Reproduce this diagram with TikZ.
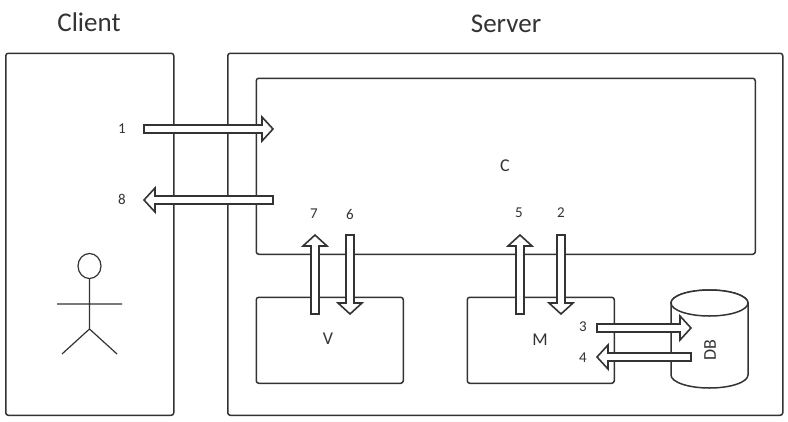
\documentclass[tikz,border=0pt]{standalone}
\usepackage{fontspec}
\setmainfont{Carlito}
\usetikzlibrary{calc}
\definecolor{ink}{HTML}{333333}
\tikzset{
  x=1pt,y=-1pt,
  box/.style={draw=ink,line width=1.5pt,fill=white,rounded corners=2.5pt},
  boxnode/.style={rectangle,draw=ink,line width=1.5pt,fill=white,rounded corners=2.5pt,inner sep=0pt,anchor=north west},
  blockarrow/.style={draw=ink,line width=1.6pt,fill=white,miter limit=10},
  figure/.style={draw=ink,line width=1.2pt},
  small/.style={font=\fontsize{15}{17}\selectfont,text=ink,inner sep=0pt},
  mid/.style={font=\fontsize{18}{20}\selectfont,text=ink,inner sep=0pt},
  big/.style={font=\fontsize{27}{30}\selectfont,text=ink,inner sep=0pt}
}
% #1 start coordinate, #2 tip coordinate
\newcommand{\blockar}[2]{%
  \coordinate (hb) at ($(#2)!11pt!(#1)$);
  \draw[blockarrow]
    ($(#1)!4pt!-90:(#2)$) -- ($(hb)!4pt!-90:(#2)$) -- ($(hb)!12pt!-90:(#2)$) -- (#2)
    -- ($(hb)!12pt!90:(#2)$) -- ($(hb)!4pt!90:(#2)$) -- ($(#1)!4pt!90:(#2)$) -- cycle;
}
\begin{document}
\begin{tikzpicture}
\useasboundingbox (0,0) rectangle (788,421);
% containers
\node[boxnode,minimum width=168pt,minimum height=362pt] (client) at (5,52.5) {};
\node[boxnode,minimum width=555pt,minimum height=362pt] (server) at (227,52.5) {};
\node[boxnode,minimum width=499pt,minimum height=176pt] (ctrl) at (255.5,77.5) {};
\node[boxnode,minimum width=147pt,minimum height=86pt] (view) at (255.5,296.5) {};
\node[boxnode,minimum width=147pt,minimum height=86pt] (model) at (466.5,296.5) {};
% database cylinder
\draw[box,rounded corners=0pt] (671,303) -- (671,375) arc[start angle=180,end angle=360,x radius=38.5pt,y radius=13pt]
  -- (748,303) arc[start angle=0,end angle=180,x radius=38.5pt,y radius=13pt] -- cycle;
\draw[box,rounded corners=0pt] (709.5,303) ellipse[x radius=38.5pt,y radius=13pt];
% actor
\draw[figure] (89.5,266) ellipse[x radius=11.5pt,y radius=12.5pt];
\draw[figure] (89.5,278.5) -- (89.5,329) (57,304) -- (122,304) (62,354) -- (89.5,329) -- (117,354);
% anchors for the arrows
\coordinate (a1) at (144,129); \coordinate (b1) at (273,129);
\coordinate (a8) at (273,200); \coordinate (b8) at (144,200);
\coordinate (a7) at (315,314); \coordinate (b7) at (315,235);
\coordinate (a6) at (350,235); \coordinate (b6) at (350,314);
\coordinate (a5) at (520,314); \coordinate (b5) at (520,235);
\coordinate (a2) at (561,235); \coordinate (b2) at (561,314);
\coordinate (a3) at (597,328); \coordinate (b3) at (691,328);
\coordinate (a4) at (691,357); \coordinate (b4) at (597,357);
\blockar{a1}{b1}
\blockar{a8}{b8}
\blockar{a7}{b7}
\blockar{a6}{b6}
\blockar{a5}{b5}
\blockar{a2}{b2}
\blockar{a3}{b3}
\blockar{a4}{b4}
% labels
\node[big] (tclient) at (89,22) {Client};
\node[big] (tserver) at (506,24) {Server};
\node[small] (n1) at (122,129) {1};
\node[small] (n8) at (122,199) {8};
\node[small] (n7) at (314,214) {7};
\node[small] (n6) at (350,214) {6};
\node[small] (n5) at (519,213) {5};
\node[small] (n2) at (561,213) {2};
\node[small] (n3) at (583,327) {3};
\node[small] (n4) at (583,358) {4};
\node[mid] (tc) at (505,166) {C};
\node[mid] (tv) at (328,339) {V};
\node[mid] (tm) at (540,340) {M};
\node[mid,rotate=90] (tdb) at (710,350) {DB};
\end{tikzpicture}
\end{document}
